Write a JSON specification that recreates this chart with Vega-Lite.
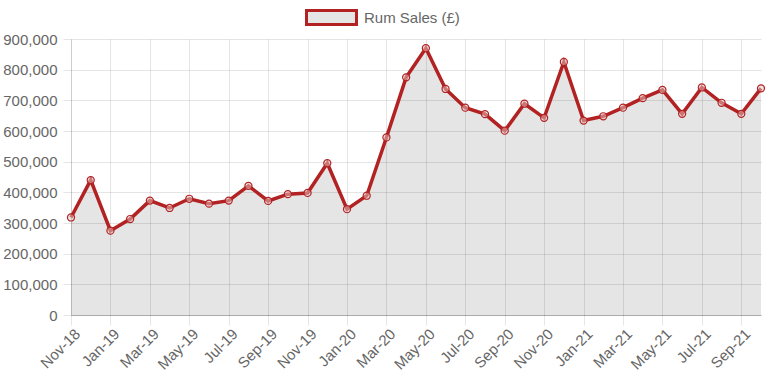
{
  "$schema": "https://vega.github.io/schema/vega-lite/v6.json",
  "width": 690,
  "height": 276,
  "autosize": {"type": "none"},
  "padding": {"left": 71, "top": 39, "right": 6, "bottom": 68},
  "background": "white",
  "config": {
    "view": {"stroke": null},
    "font": "Liberation Sans",
    "axis": {
      "gridColor": "#000", "gridOpacity": 0.1,
      "tickColor": "#000", "tickOpacity": 0.1,
      "domainColor": "#000", "domainOpacity": 0.1,
      "labelColor": "#666", "labelFontSize": 15, "labelFont": "Liberation Sans",
      "title": null
    },
    "legend": {"labelFont": "Liberation Sans"}
  },
  "data": {"values": [
    {"month": "Nov-18", "sales": 318000},
    {"month": "Dec-18", "sales": 440000},
    {"month": "Jan-19", "sales": 275000},
    {"month": "Feb-19", "sales": 313000},
    {"month": "Mar-19", "sales": 373000},
    {"month": "Apr-19", "sales": 349000},
    {"month": "May-19", "sales": 379000},
    {"month": "Jun-19", "sales": 363000},
    {"month": "Jul-19", "sales": 373000},
    {"month": "Aug-19", "sales": 421000},
    {"month": "Sep-19", "sales": 372000},
    {"month": "Oct-19", "sales": 394000},
    {"month": "Nov-19", "sales": 398000},
    {"month": "Dec-19", "sales": 495000},
    {"month": "Jan-20", "sales": 345000},
    {"month": "Feb-20", "sales": 389000},
    {"month": "Mar-20", "sales": 579000},
    {"month": "Apr-20", "sales": 775000},
    {"month": "May-20", "sales": 870000},
    {"month": "Jun-20", "sales": 737000},
    {"month": "Jul-20", "sales": 676000},
    {"month": "Aug-20", "sales": 655000},
    {"month": "Sep-20", "sales": 601000},
    {"month": "Oct-20", "sales": 689000},
    {"month": "Nov-20", "sales": 643000},
    {"month": "Dec-20", "sales": 825000},
    {"month": "Jan-21", "sales": 634000},
    {"month": "Feb-21", "sales": 648000},
    {"month": "Mar-21", "sales": 676000},
    {"month": "Apr-21", "sales": 707000},
    {"month": "May-21", "sales": 734000},
    {"month": "Jun-21", "sales": 656000},
    {"month": "Jul-21", "sales": 742000},
    {"month": "Aug-21", "sales": 692000},
    {"month": "Sep-21", "sales": 656000},
    {"month": "Oct-21", "sales": 739000}
  ]},
  "encoding": {
    "x": {
      "field": "month", "type": "ordinal", "sort": null,
      "scale": {"type": "point", "padding": 0},
      "axis": {
        "values": ["Nov-18","Jan-19","Mar-19","May-19","Jul-19","Sep-19","Nov-19","Jan-20","Mar-20","May-20","Jul-20","Sep-20","Nov-20","Jan-21","Mar-21","May-21","Jul-21","Sep-21"],
        "labelAngle": -45, "labelAlign": "right", "labelBaseline": "middle",
        "grid": true, "ticks": true,
        "tickSize": 10, "labelPadding": 6, "labelOffset": 6,
        "domainOpacity": 0.25
      }
    },
    "y": {
      "field": "sales", "type": "quantitative",
      "scale": {"domain": [0, 900000], "nice": false},
      "axis": {
        "values": [0,100000,200000,300000,400000,500000,600000,700000,800000,900000],
        "format": ",.0f", "tickSize": 8, "labelPadding": 6
      }
    }
  },
  "layer": [
    {"mark": {"type": "area", "fill": "#000", "fillOpacity": 0.1, "interpolate": "linear"}},
    {
      "mark": {"type": "line", "strokeWidth": 3.5, "interpolate": "linear"},
      "encoding": {
        "color": {
          "datum": "Rum Sales (£)", "type": "nominal",
          "scale": {"range": ["#b22222"]},
          "legend": {
            "orient": "none", "legendX": 252, "legendY": -30, "padding": 0,
            "title": null, "labelFontSize": 15, "labelColor": "#666", "labelOffset": 24,
            "symbolType": "M-3.57,-1H3.57V1H-3.57Z", "symbolSize": 196, "symbolStrokeWidth": 3,
            "encode": {"symbols": {"update": {
              "fill": {"value": "#e5e5e5"}, "stroke": {"value": "#b22222"},
              "strokeWidth": {"value": 3}, "opacity": {"value": 1}
            }}}
          }
        }
      }
    },
    {"mark": {"type": "circle", "size": 50, "fill": "#e8c8c8", "fillOpacity": 0.5, "stroke": "#b22222", "strokeWidth": 1.2, "opacity": 1}}
  ]
}
